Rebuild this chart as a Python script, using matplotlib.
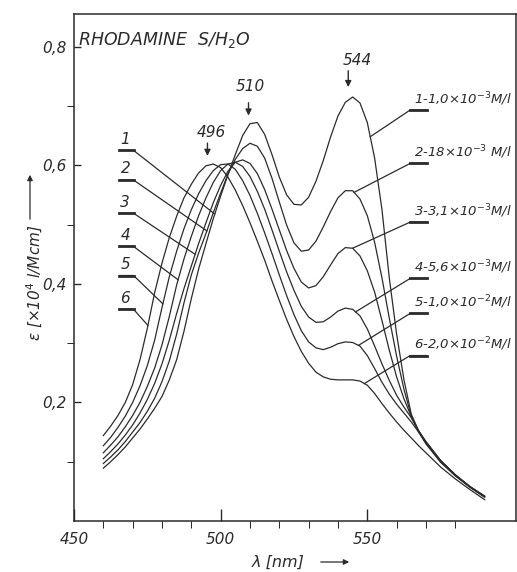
import numpy as np
from matplotlib import pyplot as plt

plt.rcParams['mathtext.default'] = 'it'

# wavelength grid (nm)
wl = [460, 462.5, 465, 467.5, 470, 472.5, 475, 477.5, 480, 482.5,
      485, 487.5, 490, 492.5, 495, 497.5, 500, 502.5, 505, 507.5,
      510, 512.5, 515, 517.5, 520, 522.5, 525, 527.5, 530, 532.5,
      535, 537.5, 540, 542.5, 545, 547.5, 550, 552.5, 555, 557.5,
      560, 562.5, 565, 567.5, 570, 575, 580, 585, 590]

c1 = [0.089, 0.100, 0.112, 0.125, 0.140, 0.155, 0.172, 0.190, 0.210, 0.238,
      0.272, 0.320, 0.375, 0.425, 0.468, 0.510, 0.548, 0.584, 0.618, 0.650,
      0.670, 0.672, 0.652, 0.618, 0.580, 0.550, 0.534, 0.533, 0.546, 0.573,
      0.608, 0.648, 0.683, 0.706, 0.715, 0.705, 0.672, 0.612, 0.525, 0.410,
      0.315, 0.238, 0.180, 0.152, 0.132, 0.100, 0.077, 0.057, 0.040]
c2 = [0.097, 0.108, 0.120, 0.134, 0.150, 0.166, 0.185, 0.207, 0.235, 0.270,
      0.315, 0.368, 0.415, 0.452, 0.485, 0.520, 0.553, 0.585, 0.610, 0.628,
      0.637, 0.632, 0.612, 0.578, 0.538, 0.499, 0.469, 0.455, 0.457, 0.472,
      0.496, 0.522, 0.545, 0.557, 0.557, 0.543, 0.515, 0.470, 0.410, 0.342,
      0.278, 0.222, 0.177, 0.150, 0.130, 0.099, 0.076, 0.057, 0.041]
c3 = [0.105, 0.117, 0.130, 0.145, 0.162, 0.182, 0.205, 0.232, 0.265, 0.305,
      0.350, 0.392, 0.430, 0.468, 0.503, 0.537, 0.566, 0.590, 0.605, 0.609,
      0.603, 0.586, 0.559, 0.526, 0.491, 0.456, 0.426, 0.403, 0.393, 0.397,
      0.412, 0.432, 0.451, 0.461, 0.460, 0.447, 0.422, 0.386, 0.338, 0.288,
      0.243, 0.206, 0.176, 0.152, 0.133, 0.101, 0.077, 0.058, 0.041]
c4 = [0.115, 0.128, 0.142, 0.159, 0.178, 0.200, 0.227, 0.258, 0.297, 0.345,
      0.398, 0.442, 0.480, 0.515, 0.545, 0.571, 0.591, 0.602, 0.605, 0.598,
      0.581, 0.556, 0.526, 0.491, 0.455, 0.420, 0.389, 0.362, 0.344, 0.335,
      0.336, 0.344, 0.354, 0.359, 0.357, 0.346, 0.324, 0.295, 0.265, 0.237,
      0.212, 0.192, 0.174, 0.152, 0.134, 0.102, 0.078, 0.058, 0.042]
c5 = [0.127, 0.141, 0.158, 0.177, 0.200, 0.228, 0.262, 0.305, 0.360, 0.412,
      0.455, 0.493, 0.525, 0.552, 0.574, 0.591, 0.601, 0.602, 0.593, 0.574,
      0.549, 0.519, 0.486, 0.451, 0.415, 0.380, 0.348, 0.321, 0.302, 0.292,
      0.289, 0.293, 0.299, 0.302, 0.301, 0.295, 0.279, 0.257, 0.234, 0.214,
      0.197, 0.182, 0.167, 0.150, 0.133, 0.102, 0.078, 0.058, 0.042]
c6 = [0.144, 0.160, 0.178, 0.200, 0.230, 0.272, 0.325, 0.385, 0.435, 0.478,
      0.514, 0.545, 0.568, 0.587, 0.599, 0.602, 0.596, 0.580, 0.558, 0.532,
      0.503, 0.472, 0.440, 0.405, 0.372, 0.340, 0.311, 0.286, 0.266, 0.251,
      0.243, 0.239, 0.238, 0.238, 0.238, 0.236, 0.229, 0.215, 0.198, 0.182,
      0.167, 0.153, 0.140, 0.127, 0.115, 0.091, 0.071, 0.053, 0.036]
curves = [c1, c2, c3, c4, c5, c6]

conc_labels = ["1-1,0×10$^{-3}$M/l", "2-18×10$^{-3}$ M/l", "3-3,1×10$^{-3}$M/l",
               "4-5,6×10$^{-3}$M/l", "5-1,0×10$^{-2}$M/l", "6-2,0×10$^{-2}$M/l"]
peaks = [496, 510, 544]

ink = "#2b2b2b"
fnt = dict(family="DejaVu Sans", style="italic", color=ink)

fig = plt.figure(figsize=(5.17, 5.72), dpi=100)
ax = fig.add_axes([74 / 517, 51 / 572, 442 / 517, 507 / 572])

for c in curves:
    ax.plot(wl, c, color=ink, lw=0.9)

ax.set_xlim(450, 600.7)
ax.set_ylim(0, 0.855)
ax.set_xticks([450, 500, 550])
ax.set_xticks(np.arange(460, 590, 10), minor=True)
ax.set_yticks([0.2, 0.4, 0.6, 0.8])
ax.set_yticks([0.1, 0.3, 0.5, 0.7], minor=True)
ax.set_xticklabels(["450", "500", "550"], fontsize=11, **fnt)
ax.set_yticklabels(["0,2", "0,4", "0,6", "0,8"], fontsize=11, **fnt)
ax.tick_params(direction="in", color=ink, width=1.0)
ax.tick_params(axis="x", which="major", length=9, pad=8)
ax.tick_params(axis="x", which="minor", length=5)
ax.tick_params(axis="y", which="major", length=5, pad=5)
ax.tick_params(axis="y", which="minor", length=5)
for s in ax.spines.values():
    s.set_color(ink)
    s.set_linewidth(1.1)

ax.text(451.3, 0.811, "RHODAMINE  S/H$_2$O", fontsize=12.5, va="center", ha="left", **fnt)

# numbered leaders on the left
left_y = [0.625, 0.575, 0.519, 0.463, 0.414, 0.357]
left_hit = [498, 495.3, 491.3, 485.5, 480.3, 475.2]
for i in range(6):
    yh = np.interp(left_hit[i], wl, curves[i])
    ax.plot([465.5, 470.3, left_hit[i]], [left_y[i], left_y[i], yh], color=ink, lw=0.9)
    ax.plot([465.5, 470.3], [left_y[i], left_y[i]], color=ink, lw=2.0)
    ax.text(467.5, left_y[i] + 0.006, str(i + 1), fontsize=11, ha="center", va="bottom", **fnt)

# concentration leaders on the right
right_y = [0.693, 0.603, 0.504, 0.409, 0.350, 0.279]
right_hit = [551, 545.5, 545, 546, 547, 549]
for i in range(6):
    yh = np.interp(right_hit[i], wl, curves[i])
    ax.plot([right_hit[i], 564.6, 570.3], [yh, right_y[i], right_y[i]], color=ink, lw=0.9)
    ax.plot([564.6, 570.3], [right_y[i], right_y[i]], color=ink, lw=2.0)
    ax.text(565.8, right_y[i] + 0.004, conc_labels[i], fontsize=9.5, ha="left", va="bottom",
            clip_on=False, **fnt)

# peak arrows
peak_txt = [(496.7, 0.655), (510, 0.733), (546.5, 0.777)]
peak_arr = [(0.642, 0.611), (0.710, 0.679), (0.764, 0.727)]
for p, (tx, ty), (y0, y1) in zip(peaks, peak_txt, peak_arr):
    ax.annotate("", xy=(p - 0.5, y1), xytext=(p - 0.5, y0),
                arrowprops=dict(arrowstyle="-|>", color=ink, lw=1.0, mutation_scale=9))
    ax.text(tx, ty, str(p), fontsize=11, ha="center", va="center", **fnt)

# axis titles with long arrows
fig.text(305 / 517, 1 - 562 / 572, "λ [nm]", fontsize=11.5, ha="right", va="center", **fnt)
ax.annotate("", xy=(352 / 517, 1 - 562 / 572), xytext=(318 / 517, 1 - 562 / 572),
            xycoords="figure fraction",
            arrowprops=dict(arrowstyle="-|>", color=ink, lw=0.9, mutation_scale=8))
fig.text(35 / 517, 1 - 283 / 572, "ε [×10$^4$ l/Mcm]", fontsize=11, rotation=90,
         ha="center", va="center", **fnt)
ax.annotate("", xy=(30 / 517, 1 - 172 / 572), xytext=(30 / 517, 1 - 222 / 572),
            xycoords="figure fraction",
            arrowprops=dict(arrowstyle="-|>", color=ink, lw=0.9, mutation_scale=8))

plt.savefig("out.png", dpi=100)
